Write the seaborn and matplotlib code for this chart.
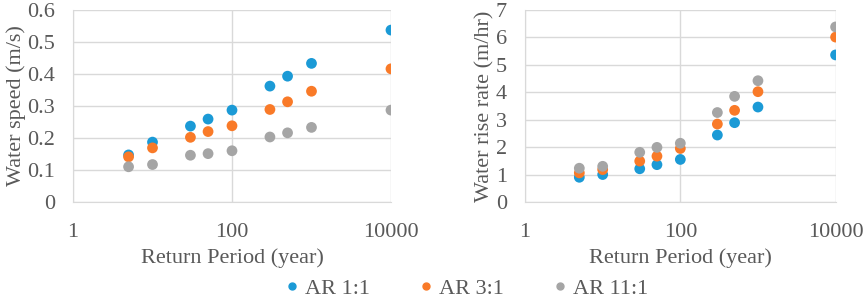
import matplotlib
matplotlib.use("Agg")
from matplotlib import pyplot as plt
import seaborn as sns
import pandas as pd

return_period = [5, 10, 30, 50, 100, 300, 500, 1000, 10000]
series_names = ["AR 1:1", "AR 3:1", "AR 11:1"]

speed_ar1 = [0.147, 0.187, 0.237, 0.259, 0.287, 0.362, 0.393, 0.433, 0.537]
speed_ar3 = [0.141, 0.169, 0.202, 0.220, 0.238, 0.289, 0.313, 0.346, 0.416]
speed_ar11 = [0.110, 0.117, 0.146, 0.151, 0.160, 0.203, 0.216, 0.233, 0.287]

rise_ar1 = [0.90, 1.00, 1.21, 1.36, 1.55, 2.44, 2.89, 3.46, 5.36]
rise_ar3 = [1.06, 1.18, 1.49, 1.67, 1.95, 2.84, 3.34, 4.02, 6.01]
rise_ar11 = [1.23, 1.30, 1.81, 1.99, 2.14, 3.26, 3.85, 4.42, 6.38]

colors = ["#1b9ad6", "#f97a28", "#a5a5a5"]


def to_frame(series):
    rows = []
    for name, vals in zip(series_names, series):
        for x, y in zip(return_period, vals):
            rows.append({"period": x, "value": y, "series": name})
    return pd.DataFrame(rows)


speed_df = to_frame([speed_ar1, speed_ar3, speed_ar11])
rise_df = to_frame([rise_ar1, rise_ar3, rise_ar11])

sns.set_style("white")
plt.rcParams["font.family"] = ["Liberation Serif", "DejaVu Serif"]
text_color = "#595959"
grid_color = "#d9d9d9"

fig = plt.figure(figsize=(8.65, 3.01), dpi=100)
ax1 = fig.add_axes([0.0844, 0.329, 0.3676, 0.638])
ax2 = fig.add_axes([0.607, 0.329, 0.359, 0.638])

panels = [
    (ax1, speed_df, "Water speed (m/s)", (0, 0.6), [0, 0.1, 0.2, 0.3, 0.4, 0.5, 0.6], ["0", "0.1", "0.2", "0.3", "0.4", "0.5", "0.6"]),
    (ax2, rise_df, "Water rise rate (m/hr)", (0, 7), list(range(8)), [str(i) for i in range(8)]),
]

for ax, df, ylabel, ylim, yticks, ylabels in panels:
    sns.scatterplot(data=df, x="period", y="value", hue="series", palette=colors,
                    s=60, edgecolor="none", ax=ax, legend=False, zorder=3)
    ax.set_xscale("log")
    ax.set_xlim(1, 10000)
    ax.set_xticks([1, 100, 10000])
    ax.set_xticklabels(["1", "100", "10000"])
    ax.minorticks_off()
    ax.set_ylim(*ylim)
    ax.set_yticks(yticks)
    ax.set_yticklabels(ylabels)
    ax.grid(True, color=grid_color, linewidth=1)
    ax.set_axisbelow(True)
    for side in ["top", "right"]:
        ax.spines[side].set_visible(False)
    for side in ["left", "bottom"]:
        ax.spines[side].set_color(grid_color)
    ax.tick_params(length=0, labelsize=16, colors=text_color)
    ax.tick_params(axis="x", pad=15)
    ax.tick_params(axis="y", pad=13)
    ax.set_xlabel("Return Period (year)", fontsize=16, color=text_color, labelpad=5)
    ax.set_ylabel(ylabel, fontsize=16, color=text_color, labelpad=1)

handles = [plt.Line2D([], [], marker="o", linestyle="", color=c, markersize=5) for c in colors]
fig.legend(handles, series_names, loc="center", bbox_to_anchor=(0.537, 0.04), ncol=3,
           frameon=False, fontsize=16, labelcolor=text_color, handletextpad=0.1,
           handlelength=1.0, columnspacing=2.0)

fig.savefig("out.png", dpi=100)
